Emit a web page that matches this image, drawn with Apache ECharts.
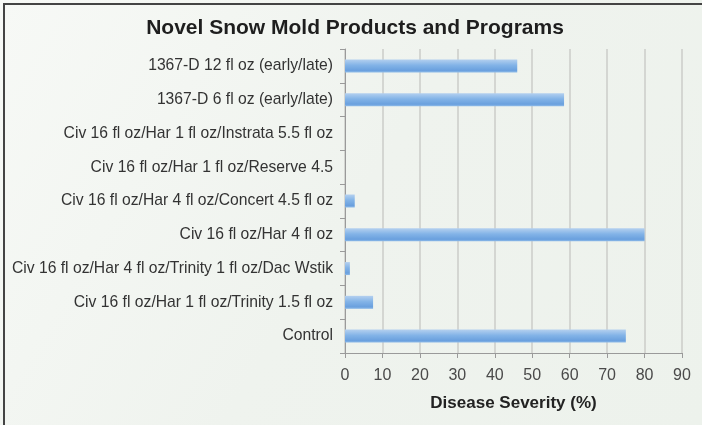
<!DOCTYPE html>
<html>
<head>
<meta charset="utf-8">
<script src="https://cdn.jsdelivr.net/npm/echarts@6/dist/echarts.min.js"></script>
<style>
  html, body { margin: 0; padding: 0; background: #eef2ec; }
  #chart { width: 702px; height: 425px; }
</style>
</head>
<body>
<div id="chart"></div>
<script>
// bottom to top, as the category axis draws them
const categories = [
  'Control',
  'Civ 16 fl oz/Har 1 fl oz/Trinity 1.5 fl oz',
  'Civ 16 fl oz/Har 4 fl oz/Trinity 1 fl oz/Dac Wstik',
  'Civ 16 fl oz/Har 4 fl oz',
  'Civ 16 fl oz/Har 4 fl oz/Concert 4.5 fl oz',
  'Civ 16 fl oz/Har 1 fl oz/Reserve 4.5',
  'Civ 16 fl oz/Har 1 fl oz/Instrata 5.5 fl oz',
  '1367-D 6 fl oz (early/late)',
  '1367-D 12 fl oz (early/late)'
]
const severity = [75, 7.5, 1.3, 80, 2.6, 0, 0, 58.5, 46]

const chart = echarts.init(document.getElementById('chart'))

const barColor = new echarts.graphic.LinearGradient(0, 0, 0, 1, [
  { offset: 0, color: '#b4d0ef' },
  { offset: 0.45, color: '#82b3e7' },
  { offset: 0.85, color: '#6aa0de' },
  { offset: 1, color: '#8fbbe8' }
])

const bg = new echarts.graphic.LinearGradient(0, 0, 1, 1, [
  { offset: 0, color: '#f7f9f6' },
  { offset: 0.5, color: '#eff3ee' },
  { offset: 1, color: '#edf2ec' }
])

chart.setOption({
  backgroundColor: bg,
  animation: false,
  title: {
    text: 'Novel Snow Mold Products and Programs',
    left: 350,
    textAlign: 'center',
    top: 13,
    textStyle: { fontFamily: 'Liberation Sans', fontSize: 21, fontWeight: 'bold', color: '#1e1e1e' }
  },
  graphic: [{
    type: 'polyline',
    shape: { points: [[4, 425], [4, 4], [702, 4]] },
    style: { fill: 'none', stroke: '#444', lineWidth: 2 },
    silent: true
  }],
  grid: { left: 345, right: 20, top: 49, bottom: 72 },
  xAxis: {
    type: 'value',
    min: 0,
    max: 90,
    interval: 10,
    name: 'Disease Severity (%)',
    nameLocation: 'middle',
    nameGap: 42,
    nameTextStyle: { fontFamily: 'Liberation Sans', fontSize: 17, fontWeight: 'bold', color: '#222' },
    axisLine: { show: true, lineStyle: { color: '#9a9a9a' } },
    axisTick: { show: true, length: 5, lineStyle: { color: '#9a9a9a' } },
    axisLabel: { fontFamily: 'Liberation Sans', fontSize: 16, color: '#4a4a4a', margin: 15 },
    splitLine: { show: true, lineStyle: { color: '#cbcdc9', width: 1.5 } }
  },
  yAxis: {
    type: 'category',
    data: categories,
    axisLine: { show: true, lineStyle: { color: '#9a9a9a' } },
    axisTick: { show: true, length: 5, lineStyle: { color: '#9a9a9a' } },
    axisLabel: { fontFamily: 'Liberation Sans', fontSize: 15.7, color: '#333', margin: 12 }
  },
  series: [{
    type: 'bar',
    data: severity,
    barWidth: 13,
    itemStyle: { color: barColor }
  }]
})
</script>
</body>
</html>
